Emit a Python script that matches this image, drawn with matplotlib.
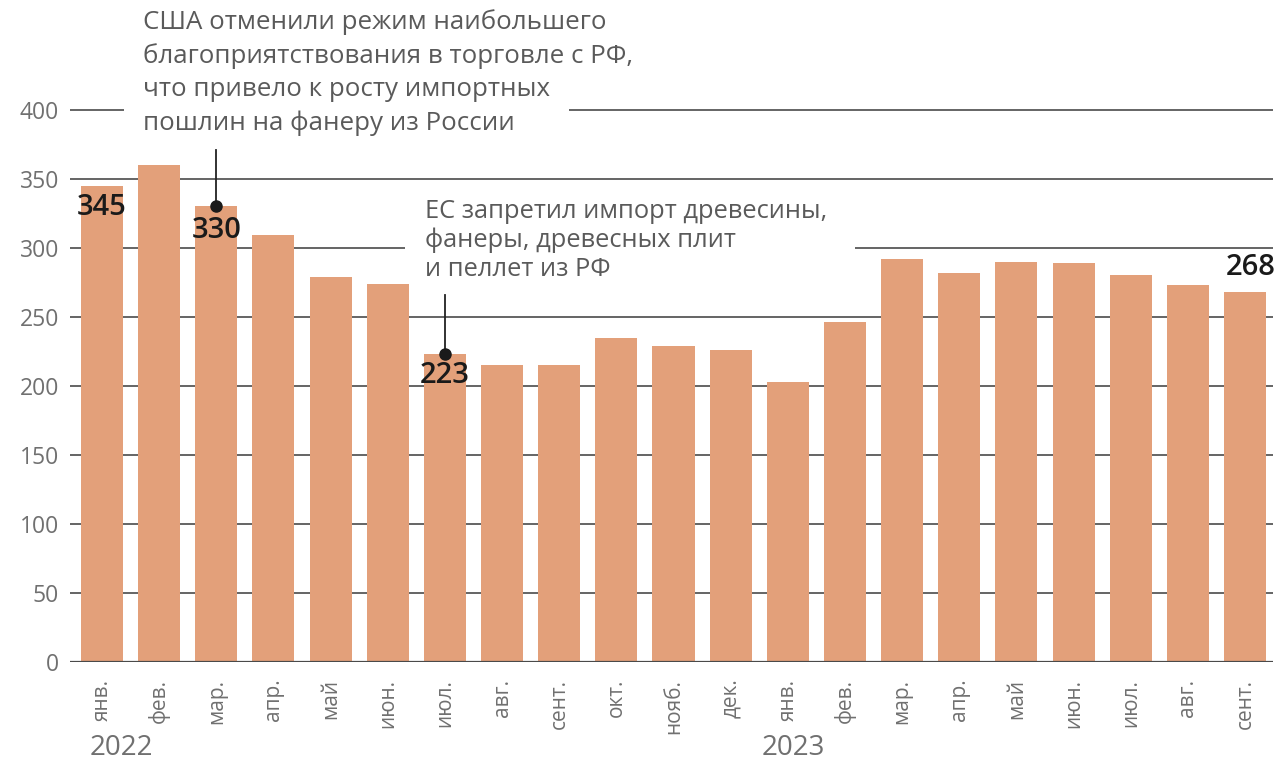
import numpy as np
import matplotlib.pyplot as plt
from matplotlib.patches import Rectangle

plt.rcParams['font.family'] = ['Open Sans', 'DejaVu Sans']

# Данные: импорт фанеры по месяцам
months = ["янв.", "фев.", "мар.", "апр.", "май", "июн.", "июл.", "авг.", "сент.",
          "окт.", "нояб.", "дек.",
          "янв.", "фев.", "мар.", "апр.", "май", "июн.", "июл.", "авг.", "сент."]
values = [345, 360, 330, 309, 279, 274, 223, 215, 215, 235, 229, 226,
          203, 246, 292, 282, 290, 289, 280, 273, 268]
yticks = [0, 50, 100, 150, 200, 250, 300, 350, 400]
years = ["2022", "2023"]
year_pos = [0, 12]

labeled = {0: "345", 2: "330", 6: "223", 20: "268"}

us_note = ["США отменили режим наибольшего",
           "благоприятствования в торговле с РФ,",
           "что привело к росту импортных",
           "пошлин на фанеру из России"]
eu_note = "ЕС запретил импорт древесины,\nфанеры, древесных плит\nи пеллет из РФ"

bar_color = "#E3A07A"
grid_color = "#4a4a4a"
text_gray = "#5a5a5a"

fig = plt.figure(figsize=(12.77, 7.6), dpi=100)
ax = fig.add_axes([70/1277, 1 - 662/760, (1273 - 70)/1277, (662 - 107)/760])

x = np.arange(len(values))
ax.bar(x, values, width=0.735, color=bar_color, zorder=3)

for t in yticks[1:]:
    ax.axhline(t, color=grid_color, lw=1.2, zorder=1)
ax.axhline(0, color=grid_color, lw=1.6, zorder=4)

ax.set_xlim(-0.56, 20.49)
ax.set_ylim(0, 402)
ax.set_yticks(yticks)
ax.set_yticklabels([str(t) for t in yticks], fontsize=16.5, color="#707070")
ax.set_xticks(x)
ax.set_xticklabels(months, rotation=90, fontsize=15, color="#707070")
ax.tick_params(axis="both", length=0)
ax.tick_params(axis="x", pad=12)
ax.tick_params(axis="y", pad=8)
for s in ax.spines.values():
    s.set_visible(False)

# годы под подписями месяцев
for yr, p in zip(years, year_pos):
    ax.text(p - 0.21 if p == 0 else p - 0.45, -0.155, yr, fontsize=20, color="#707070",
            ha="left", va="center", transform=ax.get_xaxis_transform())

# аннотация про США: сначала белые подложки, потом сам текст
for i, line in enumerate(us_note):
    yy = 463.8 - i * 24.6
    ax.text(0.72, yy, line, fontsize=18.6, color="none", ha="left", va="center",
            zorder=2, bbox=dict(facecolor="white", edgecolor="none", pad=13.5))
    ax.text(0.72, yy, line, fontsize=18.6, color=text_gray, ha="left", va="center",
            zorder=2.5)

# аннотация про ЕС
ax.add_patch(Rectangle((5.30, 270), 7.88, 72, facecolor="white", edgecolor="none",
                       zorder=2))
ax.text(5.65, 305.5, eu_note, fontsize=18.4, color=text_gray, ha="left", va="center",
        linespacing=1.2, zorder=2.5)

# выноски
ax.plot([2, 2], [371, values[2]], color="#222222", lw=1.3, zorder=5)
ax.plot([6, 6], [266, values[6]], color="#222222", lw=1.3, zorder=5)
ax.plot([2, 6], [values[2], values[6]], "o", color="#1a1a1a", ms=8, zorder=6)

# подписи значений
for i, s in labeled.items():
    if i == 20:
        ax.text(i + 0.1, values[i] + 7, s, fontsize=21, fontweight="semibold",
                color="#1a1a1a", ha="center", va="bottom", zorder=6)
    elif i == 2:
        ax.text(i, values[i] - 7, s, fontsize=21, fontweight="semibold",
                color="#1a1a1a", ha="center", va="top", zorder=6)
    else:
        ax.text(i, values[i] - 5, s, fontsize=21, fontweight="semibold",
                color="#1a1a1a", ha="center", va="top", zorder=6)

fig.savefig("out.png", dpi=100)
